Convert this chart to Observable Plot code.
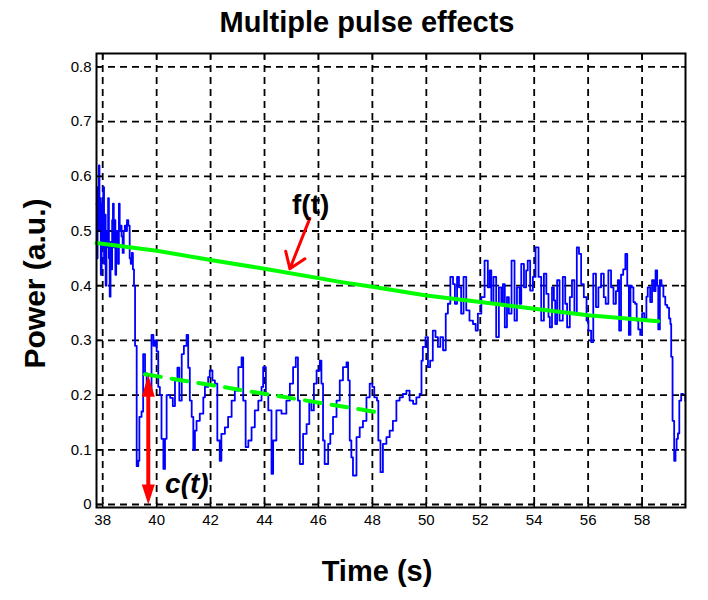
<!DOCTYPE html>
<html>
<head>
<meta charset="utf-8">
<script src="https://cdn.jsdelivr.net/npm/d3@7"></script>
<script src="https://cdn.jsdelivr.net/npm/@observablehq/plot@0.6"></script>
<style>
  html, body { margin: 0; padding: 0; background: #fff; }
</style>
</head>
<body>
<div id="chart"></div>
<script>
// ---- data ----
const xTicks = [38, 40, 42, 44, 46, 48, 50, 52, 54, 56, 58];
const yTicks = [0, 0.1, 0.2, 0.3, 0.4, 0.5, 0.6, 0.7, 0.8];
const yTickLabels = ["0", "0.1", "0.2", "0.3", "0.4", "0.5", "0.6", "0.7", "0.8"];

// measured power signal: [time (s), power (a.u.)]
const signal = [
  [37.77,0.55],[37.79,0.45],[37.81,0.58],[37.84,0.50],[37.86,0.62],[37.88,0.50],[37.91,0.56],[37.93,0.42],
  [37.96,0.55],[37.99,0.47],[38.02,0.58],[38.05,0.44],[38.08,0.53],[38.11,0.40],[38.14,0.50],[38.17,0.47],
  [38.20,0.56],[38.23,0.45],[38.26,0.38],[38.29,0.48],[38.32,0.43],[38.35,0.52],[38.38,0.55],[38.41,0.47],
  [38.44,0.52],[38.47,0.42],[38.50,0.48],[38.53,0.50],[38.57,0.44],[38.60,0.55],[38.63,0.50],[38.67,0.51],
  [38.70,0.49],[38.74,0.46],[38.78,0.50],[38.82,0.51],[38.86,0.50],[38.90,0.52],[38.95,0.51],[39.00,0.45],
  [39.04,0.44],[39.08,0.46],[39.12,0.43],[39.16,0.40],
  [39.20,0.29],[39.26,0.07],[39.32,0.08],[39.36,0.16],[39.44,0.17],[39.50,0.275],[39.57,0.24],[39.63,0.21],
  [39.72,0.20],[39.81,0.31],[39.88,0.29],[39.94,0.30],[40.00,0.28],[40.06,0.215],[40.12,0.20],[40.18,0.12],
  [40.25,0.065],[40.31,0.12],[40.37,0.20],[40.50,0.195],[40.60,0.18],[40.68,0.227],[40.77,0.25],[40.84,0.19],
  [40.93,0.275],[41.01,0.29],[41.11,0.31],[41.17,0.25],[41.23,0.19],[41.30,0.16],[41.36,0.10],[41.42,0.135],
  [41.48,0.153],[41.60,0.166],[41.73,0.196],[41.79,0.215],[41.91,0.233],[41.97,0.245],[42.07,0.227],[42.16,0.221],
  [42.25,0.117],[42.34,0.08],[42.40,0.129],[42.53,0.141],[42.65,0.16],[42.78,0.19],[42.90,0.208],[43.03,0.251],
  [43.15,0.269],[43.21,0.19],[43.30,0.105],[43.40,0.117],[43.52,0.141],[43.64,0.172],[43.77,0.19],[43.89,0.215],
  [43.95,0.251],[44.05,0.202],[44.14,0.172],[44.26,0.056],[44.32,0.117],[44.44,0.172],[44.63,0.166],[44.81,0.19],
  [44.94,0.221],[45.06,0.251],[45.16,0.269],[45.24,0.19],[45.31,0.074],[45.43,0.129],[45.56,0.147],[45.66,0.19],
  [45.74,0.172],[45.83,0.221],[45.93,0.245],[46.05,0.263],[46.11,0.221],[46.17,0.117],[46.23,0.074],[46.36,0.111],
  [46.44,0.129],[46.54,0.16],[46.67,0.19],[46.79,0.227],[46.91,0.251],[47.04,0.26],[47.10,0.227],[47.16,0.117],
  [47.22,0.086],[47.28,0.053],[47.41,0.123],[47.53,0.141],[47.65,0.153],[47.78,0.196],[47.90,0.221],[48.00,0.215],
  [48.07,0.196],[48.17,0.19],[48.22,0.117],[48.30,0.059],[48.39,0.111],[48.52,0.123],[48.64,0.135],[48.76,0.153],
  [48.89,0.19],[49.01,0.196],[49.13,0.202],[49.26,0.208],[49.38,0.19],[49.51,0.184],[49.63,0.196],[49.75,0.202],
  [49.82,0.263],[49.87,0.288],[49.97,0.306],[50.06,0.251],[50.14,0.263],[50.24,0.318],[50.34,0.306],[50.43,0.288],
  [50.52,0.306],[50.62,0.282],[50.72,0.349],[50.80,0.367],[50.89,0.416],[50.99,0.403],[51.06,0.367],[51.14,0.416],
  [51.21,0.397],[51.29,0.349],[51.38,0.416],[51.48,0.355],[51.60,0.336],[51.73,0.33],[51.83,0.318],[51.91,0.349],
  [52.04,0.379],[52.16,0.446],[52.28,0.397],[52.35,0.428],[52.41,0.367],[52.49,0.416],[52.59,0.306],[52.69,0.397],
  [52.78,0.367],[52.84,0.403],[52.91,0.324],[52.99,0.379],[53.06,0.349],[53.16,0.446],[53.27,0.336],[53.36,0.397],
  [53.46,0.367],[53.52,0.44],[53.62,0.397],[53.70,0.428],[53.76,0.446],[53.85,0.391],[53.95,0.416],[54.05,0.47],
  [54.16,0.416],[54.26,0.336],[54.36,0.422],[54.45,0.385],[54.53,0.343],[54.58,0.324],[54.66,0.397],[54.73,0.373],
  [54.78,0.33],[54.85,0.41],[54.94,0.336],[55.06,0.416],[55.15,0.367],[55.22,0.324],[55.32,0.379],[55.40,0.41],
  [55.49,0.349],[55.58,0.47],[55.66,0.458],[55.74,0.403],[55.84,0.379],[55.94,0.336],[56.01,0.318],[56.11,0.297],
  [56.19,0.422],[56.29,0.361],[56.38,0.397],[56.48,0.422],[56.58,0.379],[56.65,0.367],[56.75,0.428],[56.85,0.397],
  [56.94,0.367],[57.03,0.39],[57.10,0.41],[57.15,0.318],[57.22,0.42],[57.30,0.43],[57.38,0.458],[57.45,0.40],
  [57.51,0.31],[57.57,0.40],[57.62,0.397],[57.68,0.37],[57.74,0.367],[57.80,0.336],[57.86,0.32],[57.93,0.31],
  [58.00,0.35],[58.08,0.34],[58.16,0.38],[58.21,0.397],[58.30,0.37],[58.37,0.41],[58.44,0.39],[58.50,0.428],
  [58.56,0.40],[58.60,0.32],[58.66,0.41],[58.72,0.40],[58.79,0.38],[58.86,0.365],[58.93,0.36],[59.00,0.34],
  [59.05,0.33],[59.08,0.27],[59.13,0.153],[59.19,0.08],[59.24,0.10],[59.28,0.12],[59.33,0.13],[59.38,0.19],
  [59.45,0.202],[59.52,0.20],[59.60,0.19]
];

// f(t): slow trend (solid green)
const fTrend = [[37.77,0.478],[40,0.464],[42,0.447],[44,0.431],[46.8,0.407],[48,0.398],[50,0.382],[52,0.37],[54,0.358],[56,0.346],[58.6,0.335]];
// c(t): offset level during pulses (dashed green)
const cTrend = [[39.57,0.238],[48.15,0.169]];

// annotation arrows and labels
const fArrow = [{x1: 45.68, y1: 0.523, x2: 44.94, y2: 0.431}];
const cArrow = [{t: 39.69, top: 0.237, bottom: 0.0}];
const fLabel = [{t: 45.71, v: 0.548, text: "f(t)"}];
const cLabel = [{t: 41.12, v: 0.037, text: "c(t)"}];

// ---- arrowhead symbols (tip at origin) ----
const headUp = {draw(ctx) { ctx.moveTo(0, 0); ctx.lineTo(-6.5, 22); ctx.lineTo(6.5, 22); ctx.closePath(); }};
const headDown = {draw(ctx) { ctx.moveTo(0, 0); ctx.lineTo(-6.5, -20); ctx.lineTo(6.5, -20); ctx.closePath(); }};

const gridStyle = {stroke: "black", strokeOpacity: 1, strokeWidth: 1.8, strokeDasharray: "7,5"};
const green = "#00ff00";

const chart = Plot.plot({
  width: 708,
  height: 600,
  marginLeft: 96,
  marginRight: 23,
  marginTop: 53,
  marginBottom: 93,
  style: {fontFamily: "'Liberation Sans', Arial, sans-serif", fontSize: "15px", background: "white", color: "black"},
  x: {domain: [37.77, 59.61]},
  y: {domain: [-0.0055, 0.8245]},
  marks: [
    Plot.gridX(xTicks, gridStyle),
    Plot.gridY(yTicks, gridStyle),
    Plot.line(signal, {x: d => d[0], y: d => d[1], stroke: "#0000ff", strokeWidth: 1.8, curve: "step-after"}),
    Plot.line(fTrend, {x: d => d[0], y: d => d[1], stroke: green, strokeWidth: 4}),
    Plot.line(cTrend, {x: d => d[0], y: d => d[1], stroke: green, strokeWidth: 4, strokeDasharray: "16,11"}),
    Plot.ruleX(cArrow, {x: "t", y1: d => d.bottom + 0.02, y2: d => d.top - 0.02, stroke: "red", strokeWidth: 4}),
    Plot.dot(cArrow, {x: "t", y: "top", symbol: headUp, fill: "red", stroke: null}),
    Plot.dot(cArrow, {x: "t", y: "bottom", symbol: headDown, fill: "red", stroke: null}),
    Plot.arrow(fArrow, {x1: "x1", y1: "y1", x2: "x2", y2: "y2", stroke: "red", strokeWidth: 3, headLength: 9, headAngle: 70}),
    Plot.text(fLabel, {x: "t", y: "v", text: "text", fontSize: 28, fontWeight: "bold", fill: "black"}),
    Plot.text(cLabel, {x: "t", y: "v", text: "text", fontSize: 28, fontWeight: "bold", fontStyle: "italic", fill: "black"}),
    Plot.frame({stroke: "black", strokeWidth: 2}),
    Plot.axisX(xTicks, {anchor: "bottom", tickSize: -5, tickPadding: 12, strokeWidth: 1.5, fontSize: 15, label: null}),
    Plot.axisY(yTicks, {anchor: "left", tickSize: -5, tickPadding: 10, strokeWidth: 1.5, fontSize: 15, label: null,
      tickFormat: d => yTickLabels[yTicks.indexOf(d)]}),
    Plot.axisX(xTicks, {anchor: "top", tickSize: -5, strokeWidth: 1.5, label: null, tickFormat: () => ""}),
    Plot.axisY(yTicks, {anchor: "right", tickSize: -5, strokeWidth: 1.5, label: null, tickFormat: () => ""}),
    Plot.text(["Multiple pulse effects"], {text: d => d, frameAnchor: "top", textAnchor: "middle", lineAnchor: "middle", dx: -24, dy: -31, fontSize: 29, fontWeight: "bold"}),
    Plot.text(["Time (s)"], {text: d => d, frameAnchor: "bottom", textAnchor: "middle", lineAnchor: "middle", dx: -14, dy: 64, fontSize: 29, fontWeight: "bold"}),
    Plot.text(["Power (a.u.)"], {text: d => d, frameAnchor: "left", textAnchor: "middle", lineAnchor: "middle", rotate: -90, dx: -61, dy: 3, fontSize: 30, fontWeight: "bold"})
  ]
});
document.getElementById("chart").appendChild(chart);
</script>
</body>
</html>
